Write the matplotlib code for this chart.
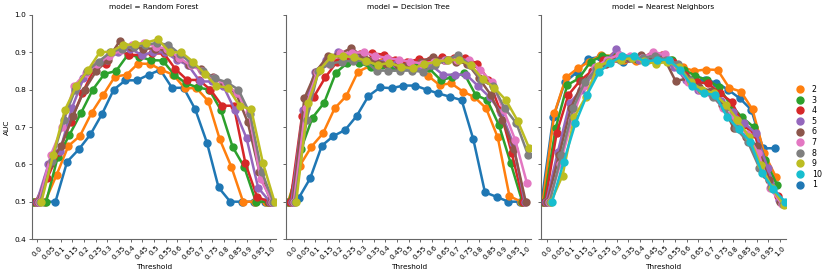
import numpy as np
import matplotlib
matplotlib.use('Agg')
from matplotlib import pyplot as plt
from matplotlib.lines import Line2D

thresholds = ['0.0', '0.05', '0.1', '0.15', '0.2', '0.25', '0.3', '0.35', '0.4', '0.45', '0.5',
              '0.55', '0.6', '0.65', '0.7', '0.75', '0.8', '0.85', '0.9', '0.95', '1.0']
models = ['Random Forest', 'Decision Tree', 'Nearest Neighbors']
n_values = [1, 2, 3, 4, 5, 6, 7, 8, 9, 10]
legend_order = [2, 3, 4, 5, 6, 7, 8, 9, 10, 1]
colors = ['#1f77b4', '#ff7f0e', '#2ca02c', '#d62728', '#9467bd',
          '#8c564b', '#e377c2', '#7f7f7f', '#bcbd22', '#17becf']

# AUC per n (rows n=1..10), None where the model has no run for that n
rf_auc = [
    [0.5, 0.5, 0.5, 0.607, 0.64, 0.68, 0.735, 0.80, 0.825, 0.825, 0.84, 0.853, 0.805, 0.805, 0.747, 0.658, 0.538, 0.5, 0.5, 0.5, 0.5],
    [0.5, 0.5, 0.572, 0.649, 0.676, 0.738, 0.786, 0.835, 0.84, 0.87, 0.869, 0.853, 0.84, 0.804, 0.804, 0.77, 0.667, 0.593, 0.5, 0.5, 0.5],
    [0.5, 0.5, 0.62, 0.679, 0.738, 0.80, 0.842, 0.85, 0.893, 0.888, 0.879, 0.878, 0.84, 0.817, 0.806, 0.80, 0.745, 0.647, 0.593, 0.5, 0.5],
    [0.5, 0.563, 0.634, 0.714, 0.79, 0.855, 0.87, 0.906, 0.893, 0.893, 0.897, 0.897, 0.855, 0.826, 0.826, 0.80, 0.757, 0.757, 0.603, 0.513, 0.5],
    [0.5, 0.6, 0.637, 0.75, 0.83, 0.86, 0.88, 0.90, 0.91, 0.893, 0.90, 0.90, 0.88, 0.865, 0.822, 0.822, 0.81, 0.745, 0.67, 0.537, 0.5],
    [0.5, 0.6, 0.65, 0.73, 0.80, 0.85, 0.88, 0.93, 0.915, 0.91, 0.91, 0.905, 0.885, 0.866, 0.855, 0.833, 0.815, 0.79, 0.713, 0.58, 0.5],
    [0.5, 0.625, 0.70, 0.81, 0.845, 0.87, 0.89, 0.905, 0.92, 0.925, 0.915, 0.91, 0.885, 0.865, 0.85, 0.83, 0.815, 0.79, 0.74, 0.56, 0.5],
    [0.5, 0.61, 0.72, 0.80, 0.85, 0.875, 0.90, 0.91, 0.915, 0.92, 0.925, 0.92, 0.895, 0.87, 0.85, 0.83, 0.82, 0.80, 0.735, 0.58, 0.5],
    [0.5, 0.625, 0.745, 0.81, 0.853, 0.90, 0.902, 0.92, 0.921, 0.926, 0.935, 0.90, 0.90, 0.875, 0.843, 0.81, 0.805, 0.757, 0.747, 0.604, 0.5],
    None,
]
dt_auc = [
    [0.5, 0.509, 0.5625, 0.65, 0.676, 0.692, 0.73, 0.783, 0.806, 0.804, 0.811, 0.811, 0.80, 0.79, 0.781, 0.772, 0.667, 0.525, 0.513, 0.5, 0.5],
    [0.5, 0.596, 0.647, 0.683, 0.75, 0.783, 0.848, 0.863, 0.875, 0.87, 0.87, 0.868, 0.8375, 0.8125, 0.817, 0.795, 0.78, 0.75, 0.672, 0.515, 0.5],
    [0.5, 0.64, 0.725, 0.765, 0.845, 0.872, 0.872, 0.86, 0.865, 0.862, 0.865, 0.86, 0.857, 0.826, 0.833, 0.844, 0.786, 0.772, 0.705, 0.604, 0.5],
    [0.5, 0.73, 0.78, 0.833, 0.875, 0.89, 0.895, 0.897, 0.894, 0.88, 0.875, 0.881, 0.88, 0.887, 0.885, 0.885, 0.87, 0.826, 0.745, 0.63, 0.5],
    [0.5, 0.746, 0.848, 0.88, 0.9, 0.895, 0.89, 0.88, 0.875, 0.87, 0.865, 0.857, 0.865, 0.84, 0.84, 0.84, 0.81, 0.78, 0.738, 0.658, 0.5],
    [0.5, 0.777, 0.848, 0.89, 0.895, 0.911, 0.89, 0.88, 0.87, 0.865, 0.87, 0.875, 0.887, 0.88, 0.875, 0.87, 0.83, 0.786, 0.72, 0.64, 0.5],
    [0.5, 0.75, 0.848, 0.87, 0.897, 0.899, 0.9, 0.89, 0.885, 0.88, 0.875, 0.87, 0.875, 0.88, 0.88, 0.88, 0.853, 0.82, 0.745, 0.665, 0.55],
    [0.5, 0.72, 0.85, 0.87, 0.875, 0.878, 0.877, 0.851, 0.851, 0.851, 0.851, 0.848, 0.865, 0.88, 0.893, 0.866, 0.826, 0.81, 0.75, 0.71, 0.625],
    [0.5, 0.763, 0.853, 0.888, 0.89, 0.887, 0.877, 0.866, 0.872, 0.861, 0.857, 0.868, 0.875, 0.879, 0.88, 0.865, 0.828, 0.805, 0.772, 0.717, 0.643],
    None,
]
nn_auc = [
    [0.5, 0.726, 0.82, 0.846, 0.883, 0.887, 0.885, 0.875, 0.88, 0.882, 0.88, 0.873, 0.855, 0.826, 0.826, 0.819, 0.80, 0.777, 0.746, 0.643, 0.643],
    [0.5, 0.737, 0.833, 0.857, 0.875, 0.893, 0.89, 0.88, 0.877, 0.88, 0.885, 0.88, 0.86, 0.85, 0.854, 0.853, 0.805, 0.795, 0.747, 0.63, 0.567],
    [0.5, 0.696, 0.8125, 0.83, 0.875, 0.89, 0.89, 0.885, 0.883, 0.885, 0.885, 0.88, 0.854, 0.837, 0.826, 0.808, 0.76, 0.726, 0.70, 0.612, 0.545],
    [0.5, 0.685, 0.786, 0.824, 0.85, 0.88, 0.885, 0.885, 0.886, 0.89, 0.893, 0.875, 0.84, 0.82, 0.817, 0.79, 0.768, 0.705, 0.68, 0.571, 0.515],
    [0.5, 0.634, 0.763, 0.80, 0.84, 0.87, 0.908, 0.885, 0.88, 0.885, 0.89, 0.86, 0.826, 0.80, 0.795, 0.77, 0.74, 0.71, 0.683, 0.59, 0.505],
    [0.5, 0.625, 0.75, 0.82, 0.85, 0.87, 0.885, 0.885, 0.892, 0.89, 0.885, 0.823, 0.83, 0.808, 0.796, 0.76, 0.696, 0.674, 0.65, 0.558, 0.5],
    [0.5, 0.6, 0.72, 0.81, 0.86, 0.88, 0.893, 0.89, 0.885, 0.9, 0.895, 0.865, 0.82, 0.80, 0.785, 0.75, 0.72, 0.68, 0.63, 0.536, 0.494],
    [0.5, 0.625, 0.75, 0.82, 0.855, 0.875, 0.88, 0.885, 0.885, 0.89, 0.88, 0.87, 0.825, 0.80, 0.78, 0.75, 0.696, 0.66, 0.59, 0.54, 0.495],
    [0.5, 0.57, 0.726, 0.781, 0.863, 0.875, 0.88, 0.885, 0.878, 0.869, 0.875, 0.86, 0.82, 0.80, 0.79, 0.76, 0.72, 0.674, 0.598, 0.536, 0.49],
    [0.5, 0.607, 0.71, 0.786, 0.846, 0.872, 0.89, 0.89, 0.875, 0.88, 0.88, 0.853, 0.81, 0.79, 0.786, 0.728, 0.694, 0.661, 0.578, 0.533, 0.5],
]

fontsize = 5.3
dodge = 0.9
offsets = np.linspace(-dodge / 2, dodge / 2, len(n_values))
x = np.arange(len(thresholds))

fig, axes = plt.subplots(1, 3, figsize=(8.31, 2.76), dpi=100, sharey=True)
fig.subplots_adjust(left=0.038, right=0.9455, top=0.9457, bottom=0.134, wspace=0.041)

for ax, model, auc in zip(axes, models, [rf_auc, dt_auc, nn_auc]):
    for i, n in enumerate(n_values):
        if auc[i] is None:
            continue
        ax.plot(x + offsets[i], auc[i], color=colors[i], linewidth=1.8,
                marker='o', markersize=5, clip_on=True)
    ax.set_xlim(-0.5, len(thresholds) - 0.5)
    ax.set_ylim(0.4, 1.0)
    ax.set_xticks(x)
    ax.set_xticklabels(thresholds, rotation=45, fontsize=fontsize)
    ax.set_yticks(np.arange(0.4, 1.01, 0.1))
    ax.set_yticklabels(['0.4', '0.5', '0.6', '0.7', '0.8', '0.9', '1.0'], fontsize=fontsize)
    ax.tick_params(length=2.5, width=0.6, pad=1.5, color='0.3')
    ax.set_title(f'model = {model}', fontsize=fontsize, pad=4)
    ax.set_xlabel('Threshold', fontsize=fontsize, labelpad=2.5)
    for side in ['top', 'right']:
        ax.spines[side].set_visible(False)
    for side in ['left', 'bottom']:
        ax.spines[side].set_color('0.4')
        ax.spines[side].set_linewidth(0.8)

axes[0].set_ylabel('AUC', fontsize=fontsize, labelpad=3)
for ax in axes[1:]:
    ax.tick_params(axis='y', labelleft=False)

handles = [Line2D([], [], color=colors[n_values.index(n)], marker='o', linestyle='',
                  markersize=5) for n in legend_order]
fig.legend(handles, [str(n) for n in legend_order], loc='center left',
           bbox_to_anchor=(0.952, 0.503), frameon=False, fontsize=fontsize + 0.4,
           handletextpad=0.9, labelspacing=0.2, borderpad=0, handlelength=1.2)

plt.savefig('out.png', dpi=100)
